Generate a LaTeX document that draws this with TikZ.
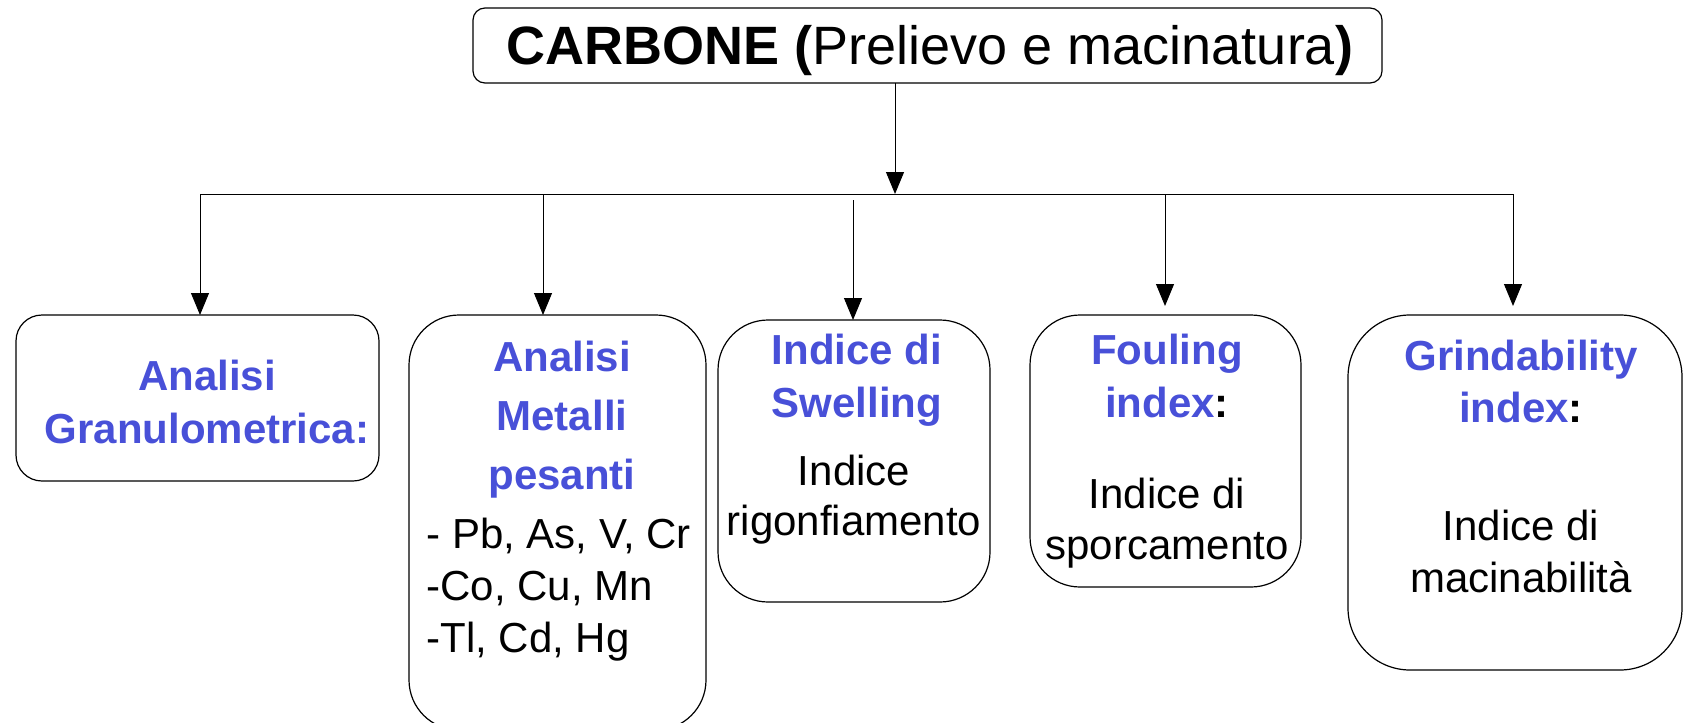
\documentclass[tikz,border=0pt]{standalone}
\usepackage{fontspec}
\setmainfont{Liberation Sans}
\usetikzlibrary{arrows.meta}
\definecolor{blu}{RGB}{72,80,216}
\begin{document}
\begin{tikzpicture}[x=0.5pt,y=-0.5pt,
  box/.style={draw, line width=0.6pt, inner sep=0pt, outer sep=0pt},
  hdr/.style={font=\fontsize{21}{26.5}\selectfont\bfseries, text=blu, align=center, inner sep=0pt, anchor=north},
  bodytxt/.style={font=\fontsize{21}{25.5}\selectfont, align=center, inner sep=0pt, anchor=north},
  conn/.style={line width=0.5pt},
  arr/.style={line width=0.5pt, -{Triangle[length=11pt,width=9pt]}}]
\useasboundingbox (0,0) rectangle (1684,722);

% boxes
\node[box, rounded corners=6pt, minimum width=454.5pt, minimum height=37.5pt] (top) at (927.5,45.5) {};
\node[box, rounded corners=13pt, minimum width=181.5pt, minimum height=83pt] (b1) at (197.5,398) {};
\node[box, rounded corners=25pt, minimum width=148.5pt, minimum height=207.5pt] (b2) at (557.5,522.5) {};
\node[box, rounded corners=25pt, minimum width=136pt, minimum height=141pt] (b3) at (854,461) {};
\node[box, rounded corners=25pt, minimum width=135.5pt, minimum height=136pt] (b4) at (1165.5,451) {};
\node[box, rounded corners=31pt, minimum width=167pt, minimum height=177.5pt] (b5) at (1515,492.5) {};

% title
\node[anchor=base, inner sep=0pt, font=\fontsize{27}{32}\selectfont] (title) at (930,65)
  {\textbf{CARBONE (}Prelievo e macinatura\textbf{)}};

% texts
\node[hdr] (h1) at (207,360) {Analisi\\Granulometrica:};
\node[hdr, font=\fontsize{21}{29.5}\selectfont\bfseries] (h2) at (562,341) {Analisi\\Metalli\\pesanti};
\node[bodytxt, align=left, anchor=north west, font=\fontsize{21}{26}\selectfont] (t2) at (426,518)
  {- Pb, As, V, Cr\\-Co, Cu, Mn\\-Tl, Cd, Hg};
\node[hdr] (h3) at (857,334) {Indice di\\Swelling};
\node[bodytxt, font=\fontsize{21}{25}\selectfont] (t3) at (854,455) {Indice\\rigonfiamento};
\node[hdr] (h4) at (1167,334) {Fouling\\index\textcolor{black}{:}};
\node[bodytxt] (t4) at (1167,478) {Indice di\\sporcamento};
\node[hdr, font=\fontsize{21}{26}\selectfont\bfseries] (h5) at (1521,340) {Grindability\\index\textcolor{black}{:}};
\node[bodytxt, font=\fontsize{21}{26}\selectfont] (t5) at (1521,510) {Indice di\\macinabilità};

% connectors
\coordinate (jt) at (895,194);
\coordinate (j1) at (200,194);
\coordinate (j2) at (543,194);
\coordinate (j3) at (853,200);
\coordinate (j4) at (1165,194);
\coordinate (j5) at (1513,194);
\draw[conn] (j1) -- (j5);
\draw[arr] (jt |- top.south) -- (jt);
\draw[arr] (j1) -- (j1 |- b1.north);
\draw[arr] (j2) -- (j2 |- b2.north);
\draw[arr] (j3) -- (j3 |- b3.north);
\draw[arr] (j4) -- ([yshift=4.5pt]j4 |- b4.north);
\draw[arr] (j5) -- ([yshift=4.5pt]j5 |- b5.north);
\end{tikzpicture}
\end{document}
